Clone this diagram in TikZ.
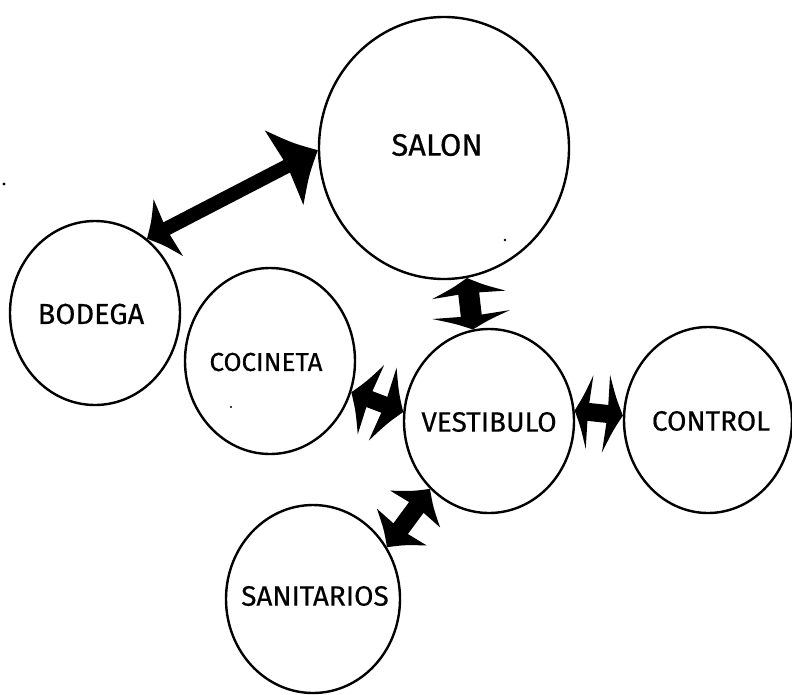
\documentclass[tikz,border=0pt]{standalone}
\usepackage{fontspec}
\setmainfont{Fira Sans}
\newfontfamily\handfont{Fira Sans}[FakeBold=0.4]
\usetikzlibrary{shapes.geometric,calc}

% Hand-drawn style two-way arrow between two border points.
% #1, #2: end points; #3: half shaft width;
% #4, #5: length and half width of the head at #1; #6, #7: same at #2.
\newcommand\flowarrow[7]{%
  \fill[black]
    (#1)
    .. controls ($(#1)!0.5*#4!(#2)!0.42*#5!90:(#2)$) .. ($(#1)!#4!(#2)!#5!90:(#2)$)
    -- ($(#1)!0.92*#4!(#2)!#3!90:(#2)$)
    -- ($(#2)!0.92*#6!(#1)!#3!-90:(#1)$)
    -- ($(#2)!#6!(#1)!#7!-90:(#1)$)
    .. controls ($(#2)!0.5*#6!(#1)!0.42*#7!-90:(#1)$) .. (#2)
    .. controls ($(#2)!0.5*#6!(#1)!0.42*#7!90:(#1)$) .. ($(#2)!#6!(#1)!#7!90:(#1)$)
    -- ($(#2)!0.92*#6!(#1)!#3!90:(#1)$)
    -- ($(#1)!0.92*#4!(#2)!#3!-90:(#2)$)
    -- ($(#1)!#4!(#2)!#5!-90:(#2)$)
    .. controls ($(#1)!0.5*#4!(#2)!0.42*#5!-90:(#2)$) .. (#1)
    -- cycle;}

\begin{document}
\begin{tikzpicture}[x=1pt,y=-1pt,
  room/.style={draw, ellipse, line width=2.4pt, inner sep=0pt},
  roomname/.style={font=\handfont\fontsize{#1}{#1}\selectfont, inner sep=0pt},
  speck/.style={fill=black},
]
\useasboundingbox (0,0) rectangle (792,694);

% rooms
\node[room, minimum width=250pt, minimum height=262pt] (salon)  at (444,148) {};
\node[room, minimum width=170pt, minimum height=184pt] (bodega) at (95,313)  {};
\node[room, minimum width=170pt, minimum height=186pt] (coc)    at (270,361) {};
\node[room, minimum width=170pt, minimum height=184pt] (vest)   at (489,421) {};
\node[room, minimum width=168pt, minimum height=186pt] (ctrl)   at (708,420) {};
\node[room, minimum width=174pt, minimum height=188pt] (san)    at (313,599) {};

% room names
\node[roomname=31] (salon-t)  at (437,145) {SALON};
\node[roomname=29] (bodega-t) at (91,314)  {BODEGA};
\node[roomname=26] (coc-t)    at (266,362) {COCINETA};
\node[roomname=28] (vest-t)   at (489,422) {VESTIBULO};
\node[roomname=28] (ctrl-t)   at (711,421) {CONTROL};
\node[roomname=28] (san-t)    at (315,596) {SANITARIOS};

% two-way circulation between rooms
\flowarrow{bodega.55}{salon.181}{7pt}{24pt}{32pt}{38pt}{42pt}
\flowarrow{salon.280}{vest.100}{10.5pt}{17pt}{37pt}{15pt}{39pt}
\flowarrow{coc.339}{vest.174}{8.5pt}{21pt}{37pt}{22pt}{39pt}
\flowarrow{vest.7}{ctrl.177}{9pt}{15pt}{37pt}{17pt}{39pt}
\flowarrow{vest.229}{san.35}{9pt}{25pt}{31pt}{25pt}{31pt}

% pen specks
\fill[speck] (4,184) circle (1.6pt);
\fill[speck] (505,240) circle (1.4pt);
\fill[speck] (231,407) circle (1.2pt);
\end{tikzpicture}
\end{document}
